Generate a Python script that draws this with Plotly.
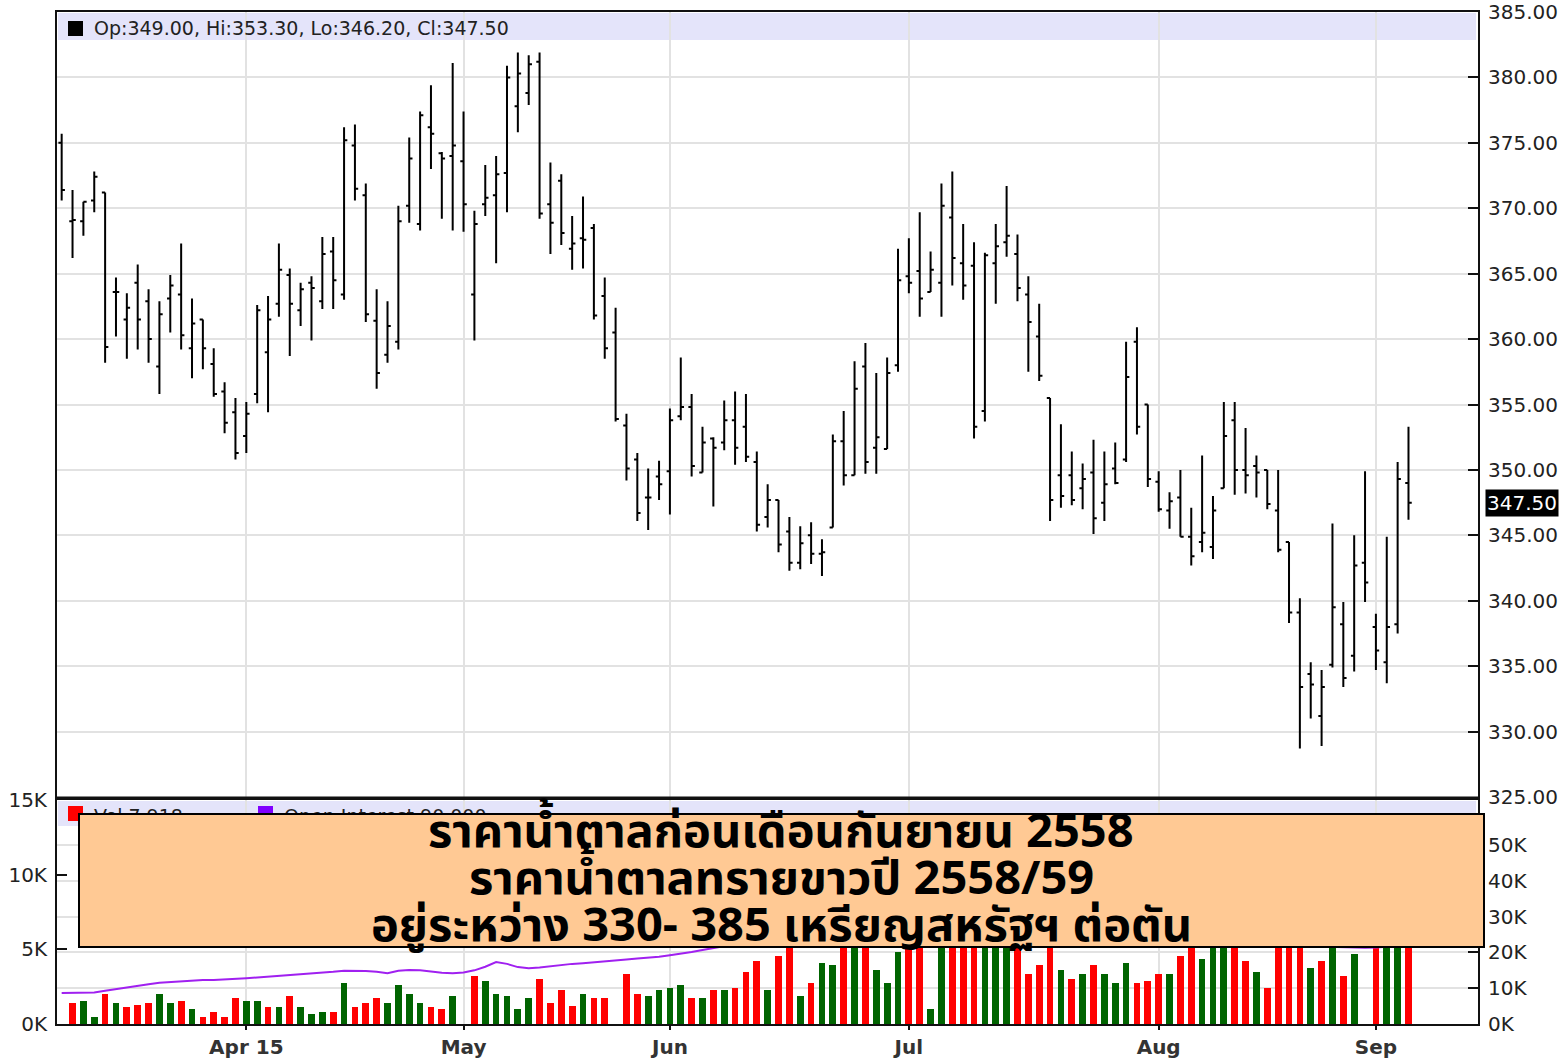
import pandas as pd
import plotly.graph_objects as go

# ---------------- data ----------------
opens = [375.0, 369.0, 369.0, 370.6, 371.2, 363.6, 361.5, 364.3, 362.9, 357.9,
         363.1, 363.4, 359.3, 361.5, 358.1, 356.0, 354.4, 352.6, 355.8, 359.0,
         362.7, 364.9, 362.2, 364.3, 362.9, 366.7, 363.4, 374.8, 371.0, 361.4,
         358.8, 359.8, 370.2, 368.8, 376.2, 374.2, 374.0, 373.6, 363.4, 370.3,
         371.0, 372.7, 377.8, 378.8, 381.2, 370.3, 372.1, 366.9, 367.7, 368.5,
         363.3, 360.5, 353.4, 350.8, 347.9, 349.5, 349.9, 354.1, 354.8, 349.8,
         352.4, 352.1, 353.8, 353.3, 350.6, 346.4, 347.7, 345.3, 342.9, 345.0,
         343.6, 345.6, 352.2, 349.6, 357.9, 351.7, 351.6, 358.0, 364.8, 365.2,
         363.6, 364.3, 369.3, 365.8, 365.6, 354.5, 365.8, 367.4, 366.5, 363.4,
         360.2, 355.5, 349.6, 349.6, 348.6, 349.8, 347.5, 350.1, 350.8, 359.8,
         355.0, 349.1, 346.9, 347.9, 344.9, 344.5, 344.1, 348.6, 353.8, 350.0,
         350.3, 350.0, 346.9, 344.5, 339.1, 334.4, 331.2, 335.1, 338.2, 335.8,
         342.9, 338.0, 335.3, 338.2, 349.0]
highs = [375.7, 371.4, 370.5, 372.8, 371.2, 364.7, 363.5, 365.7, 363.8, 362.9,
         364.9, 367.3, 363.1, 361.5, 359.3, 356.7, 355.5, 355.2, 362.6, 363.3,
         367.3, 365.4, 364.3, 364.8, 367.8, 367.8, 376.2, 376.4, 371.9, 363.8,
         362.9, 370.2, 375.4, 377.4, 379.4, 374.3, 381.1, 377.4, 369.8, 373.3,
         374.0, 380.9, 381.9, 381.7, 381.9, 373.5, 372.6, 369.4, 370.9, 368.8,
         364.7, 362.4, 354.3, 351.3, 350.1, 350.7, 354.7, 358.6, 355.8, 353.3,
         352.5, 355.3, 356.0, 355.8, 351.4, 348.9, 347.7, 346.4, 345.7, 346.0,
         344.7, 352.7, 354.5, 358.3, 359.7, 357.4, 358.6, 366.9, 367.7, 369.7,
         366.7, 371.9, 372.8, 368.8, 367.4, 366.6, 368.8, 371.7, 368.0, 364.8,
         362.7, 355.5, 353.5, 351.4, 350.5, 352.3, 351.4, 352.1, 359.8, 360.9,
         355.0, 349.9, 348.3, 350.0, 347.1, 351.1, 348.0, 355.2, 355.2, 353.2,
         351.1, 350.0, 350.0, 344.5, 340.2, 335.3, 334.7, 345.9, 339.9, 345.0,
         349.9, 339.0, 344.9, 350.6, 353.3]
lows = [370.6, 366.2, 367.9, 369.7, 358.2, 360.2, 358.5, 359.2, 358.2, 355.8,
        360.5, 359.2, 357.0, 357.7, 355.6, 352.8, 350.8, 351.3, 355.1, 354.4,
        361.7, 358.7, 361.0, 359.9, 362.3, 362.3, 363.0, 370.6, 361.3, 356.2,
        358.2, 359.2, 368.9, 368.3, 373.0, 369.2, 368.3, 368.2, 359.9, 369.4,
        365.8, 369.7, 375.8, 377.9, 369.2, 366.5, 367.2, 365.3, 365.4, 361.5,
        358.5, 353.7, 349.2, 346.1, 345.4, 347.7, 346.6, 353.8, 349.5, 349.8,
        347.2, 351.5, 350.4, 350.6, 345.3, 345.6, 343.7, 342.3, 342.4, 342.8,
        341.9, 345.6, 348.8, 349.6, 349.7, 349.7, 351.6, 357.5, 363.5, 361.7,
        363.6, 361.7, 364.1, 363.0, 352.4, 353.7, 362.7, 366.3, 362.9, 357.5,
        356.8, 346.1, 347.1, 347.3, 347.0, 345.1, 346.1, 348.9, 350.6, 352.7,
        348.7, 346.8, 345.5, 344.9, 342.7, 343.7, 343.2, 348.6, 348.1, 348.2,
        347.9, 347.0, 343.7, 338.3, 328.7, 331.0, 328.9, 334.9, 333.4, 334.6,
        339.9, 334.7, 333.7, 337.5, 346.2]
closes = [371.4, 369.1, 370.5, 372.4, 359.4, 363.6, 362.4, 361.5, 360.0, 361.9,
          364.1, 360.3, 361.2, 359.3, 355.8, 353.6, 351.3, 354.3, 362.2, 361.5,
          365.3, 362.7, 363.8, 363.9, 366.5, 364.5, 375.2, 371.5, 361.9, 357.4,
          361.0, 369.0, 373.8, 377.1, 375.7, 373.8, 374.8, 370.3, 368.8, 370.8,
          372.6, 380.0, 380.3, 381.0, 369.6, 368.9, 368.1, 367.3, 367.6, 361.8,
          359.3, 353.9, 350.1, 346.7, 347.9, 348.9, 353.8, 354.8, 350.3, 352.1,
          351.7, 353.8, 351.7, 351.0, 345.8, 347.7, 344.3, 342.9, 344.4, 343.6,
          343.7, 352.2, 349.6, 356.2, 350.6, 352.5, 357.4, 364.5, 364.3, 363.1,
          365.3, 370.2, 366.2, 364.1, 353.3, 366.4, 367.1, 367.9, 363.9, 361.3,
          357.2, 347.7, 348.0, 347.7, 349.3, 346.3, 348.9, 349.0, 357.1, 353.3,
          349.3, 347.0, 347.6, 344.9, 343.4, 345.2, 346.9, 352.6, 350.0, 349.6,
          349.8, 347.4, 343.9, 339.1, 333.4, 333.6, 333.4, 339.5, 334.1, 342.7,
          341.4, 336.2, 338.0, 349.3, 347.5]
volume = [0, 1420, 1560, 490, 2000, 1420, 1110, 1240, 1420, 2000,
          1420, 1560, 980, 490, 820, 490, 1710, 1560, 1560, 1110,
          1110, 1850, 1110, 670, 820, 820, 2750, 1110, 1420, 1710,
          1420, 2600, 2000, 1420, 1110, 980, 1850, 0, 3200, 2910,
          2000, 1870, 980, 1710, 3040, 1420, 2310, 1200, 2000, 1710,
          1710, 0, 3330, 2000, 1870, 2310, 2440, 2600, 1710, 1710,
          2310, 2310, 2440, 3490, 4220, 2310, 4530, 5400, 1870, 2760,
          4090, 3930, 5800, 6500, 6200, 3640, 2760, 4820, 5600, 6000,
          980, 7200, 6400, 5500, 8500, 7000, 5800, 5600, 5500, 3380,
          3980, 6800, 3640, 3040, 3380, 3980, 3380, 2760, 4090, 2760,
          2910, 3380, 3380, 4530, 5300, 4380, 5400, 6600, 5900, 4240,
          3490, 2440, 5800, 7500, 9000, 3780, 4240, 7200, 3200, 4710,
          0, 6500, 6000, 8000, 7918]
open_interest = [8660, 8700, 8700, 8800, 9300, 9800, 10300, 10800, 11100, 11500,
                 11700, 12000, 12200, 12300, 12300, 12400, 12500, 12800, 13000, 13200,
                 13500, 13700, 13900, 14100, 14300, 14600, 14900, 14900, 14800, 14600,
                 14200, 14900, 15100, 15000, 14600, 14300, 14200, 14400, 15000, 16000,
                 17300, 16800, 15900, 15600, 15800, 16200, 16500, 16800, 17000, 17200,
                 17500, 17800, 18000, 18300, 18500, 18800, 19200, 19600, 20100, 20700,
                 21300, 21800, 22300, 22800, 23200, 23600, 24000, 24300, 24600, 24900,
                 25200, 25500, 25700, 25900, 26100, 26300, 26400, 26500, 26600, 26700,
                 26800, 26900, 27000, 27000, 26900, 26800, 26700, 26500, 26300, 26100,
                 25900, 25700, 25500, 25300, 25100, 24900, 24700, 24500, 24300, 24100,
                 23900, 23700, 23500, 23300, 23100, 22900, 22700, 22500, 22300, 22200,
                 22100, 22000, 21900, 21800, 21700, 21600, 21600, 21500, 21500, 21400,
                 21300, 21400, 21600, 21800, 22000]
holidays = ["2015-04-03", "2015-04-06", "2015-05-04", "2015-05-25", "2015-08-31"]
month_tick_labels = ["Apr 15", "May", "Jun", "Jul", "Aug", "Sep"]
price_ticks = [325, 330, 335, 340, 345, 350, 355, 360, 365, 370, 375, 380, 385]
vol_ticks = [0, 5000, 10000, 15000]
vol_tick_text = ["0K", "5K", "10K", "15K"]
oi_ticks = [0, 10000, 20000, 30000, 40000, 50000]
oi_tick_text = ["0K", "10K", "20K", "30K", "40K", "50K"]
box_lines = ["ราคาน้ำตาลก่อนเดือนกันยายน 2558",
             "ราคาน้ำตาลทรายขาวปี 2558/59",
             "อยู่ระหว่าง 330- 385 เหรียญสหรัฐฯ ต่อตัน"]

# ---------------- derived ----------------
days = [d for d in pd.bdate_range("2015-03-09", "2015-09-04")
        if d.strftime("%Y-%m-%d") not in holidays]
dates = [d.strftime("%Y-%m-%d") for d in days]
n = len(closes)
xs = list(range(n))
month_idx = [i for i in range(1, n) if days[i].month != days[i - 1].month]
vol_colors = ["#FF0000"] + ["#006400" if closes[i] >= closes[i - 1] else "#FF0000"
                            for i in range(1, n)]

W, H = 1565, 1061
L, R, T, B = 57, 87, 12, 37
PW, PH = W - L - R, H - T - B


def px(x):
    return (x - L) / PW


def py(y):
    return (H - B - y) / PH


SANS = "DejaVu Sans, Verdana, sans-serif"
AX_FONT = dict(family=SANS, size=20, color="#222222")
GRID = "#E2E2E2"

fig = go.Figure()
fig.add_trace(go.Ohlc(
    x=xs, open=opens, high=highs, low=lows, close=closes,
    customdata=dates,
    increasing=dict(line=dict(color="black", width=2)),
    decreasing=dict(line=dict(color="black", width=2)),
    tickwidth=0.3, xaxis="x", yaxis="y", showlegend=False,
))
fig.add_trace(go.Bar(
    x=xs, y=volume, marker=dict(color=vol_colors, line=dict(width=0)),
    width=0.62, xaxis="x2", yaxis="y2", showlegend=False,
))
fig.add_trace(go.Scatter(
    x=xs, y=open_interest, mode="lines", line=dict(color="#A020F0", width=2),
    xaxis="x2", yaxis="y3", showlegend=False,
))

xr = [-0.43, 130.4]
fig.update_layout(
    width=W, height=H, margin=dict(l=L, r=R, t=T, b=B, autoexpand=False),
    paper_bgcolor="white", plot_bgcolor="white",
    bargap=0,
    xaxis=dict(domain=[0, 1], anchor="y", range=xr, tickvals=month_idx,
               showticklabels=False, showgrid=True, gridcolor=GRID, gridwidth=2,
               showline=True, mirror=True, linecolor="#111111", linewidth=2,
               ticks="", zeroline=False, rangeslider=dict(visible=False),
               automargin=False),
    yaxis=dict(domain=[py(797), 1], anchor="x", side="right", range=[325, 385],
               tickvals=price_ticks, tickformat=".2f", tickfont=AX_FONT,
               ticks="inside", ticklen=10, tickwidth=2, tickcolor="#111111",
               ticklabelstandoff=4,
               showgrid=True, gridcolor=GRID, gridwidth=2,
               showline=True, mirror=True, linecolor="#111111", linewidth=2,
               zeroline=False, automargin=False),
    xaxis2=dict(domain=[0, 1], anchor="y2", range=xr, matches="x",
                tickvals=month_idx, ticktext=month_tick_labels,
                tickfont=dict(family=SANS, size=20, color="#333333", weight="bold"),
                ticks="outside", ticklen=4, tickwidth=2, tickcolor="#111111",
                showgrid=True, gridcolor=GRID, gridwidth=2,
                showline=True, mirror=True, linecolor="#111111", linewidth=2,
                zeroline=False, automargin=False),
    yaxis2=dict(domain=[0, py(800)], anchor="x2", side="left", range=[0, 15000],
                tickvals=vol_ticks, ticktext=vol_tick_text, tickfont=AX_FONT,
                ticks="inside", ticklen=10, tickwidth=2, tickcolor="#111111",
                ticklabelstandoff=4,
                showgrid=False, showline=True, linecolor="#111111", linewidth=2,
                zeroline=False, automargin=False),
    yaxis3=dict(overlaying="y2", anchor="x2", side="right", range=[0, 62600],
                tickvals=oi_ticks, ticktext=oi_tick_text, tickfont=AX_FONT,
                ticks="inside", ticklen=10, tickwidth=2, tickcolor="#111111",
                ticklabelstandoff=4,
                showgrid=True, gridcolor=GRID, gridwidth=2,
                showline=True, linecolor="#111111", linewidth=2, zeroline=False,
                automargin=False),
)

shapes = [
    # legend bands
    dict(type="rect", xref="paper", yref="paper", x0=px(58), x1=px(1476),
         y0=py(13), y1=py(40), fillcolor="#E4E4FA", line=dict(width=0), layer="below"),
    dict(type="rect", xref="paper", yref="paper", x0=px(58), x1=px(1476),
         y0=py(801), y1=py(826), fillcolor="#E4E4FA", line=dict(width=0), layer="below"),
    # thick separator between panels
    dict(type="line", xref="paper", yref="paper", x0=0, x1=1, y0=py(798), y1=py(798),
         line=dict(color="#111111", width=3)),
    # legend swatches
    dict(type="rect", xref="paper", yref="paper", x0=px(68), x1=px(83),
         y0=py(21), y1=py(36), fillcolor="black", line=dict(width=0)),
    dict(type="rect", xref="paper", yref="paper", x0=px(68), x1=px(83),
         y0=py(806), y1=py(821), fillcolor="#FF0000", line=dict(width=0)),
    dict(type="rect", xref="paper", yref="paper", x0=px(258), x1=px(273),
         y0=py(806), y1=py(821), fillcolor="#8000FF", line=dict(width=0)),
]
fig.update_layout(shapes=shapes)

LEG_FONT = dict(family=SANS, size=19, color="#222222")
THAI_FONT = dict(family="Tahoma, 'Noto Sans Thai', Loma, Garuda, 'DejaVu Sans', sans-serif",
                 size=47, color="black", weight="bold")
annotations = [
    dict(xref="paper", yref="paper", x=px(92), y=py(28), xanchor="left", yanchor="middle",
         text=f"Op:{opens[-1]:.2f}, Hi:{highs[-1]:.2f}, Lo:{lows[-1]:.2f}, Cl:{closes[-1]:.2f}",
         showarrow=False, font=LEG_FONT),
    dict(xref="paper", yref="paper", x=px(92), y=py(816), xanchor="left", yanchor="middle",
         text=f"Vol {volume[-1]:,}", showarrow=False, font=LEG_FONT),
    dict(xref="paper", yref="paper", x=px(282), y=py(816), xanchor="left", yanchor="middle",
         text="Open Interest 90,000", showarrow=False, font=LEG_FONT),
    # last close marker
    dict(xref="paper", yref="y", x=px(1485), y=closes[-1], xanchor="left", yanchor="middle",
         text=f"{closes[-1]:.2f}", showarrow=False, bgcolor="black", borderpad=1,
         font=dict(family=SANS, size=20, color="white")),
    # orange text box
    dict(xref="paper", yref="paper", x=px(78), y=py(813), xanchor="left", yanchor="top",
         text=" ", showarrow=False, width=1403, height=131, bgcolor="#FFC994",
         bordercolor="black", borderwidth=2, borderpad=0),
]
for k, (line, yc) in enumerate(zip(box_lines, [832, 879, 926])):
    annotations.append(dict(xref="paper", yref="paper", x=px(781), y=py(yc),
                            xanchor="center", yanchor="middle", text=line,
                            showarrow=False, font=THAI_FONT))
fig.update_layout(annotations=annotations)

fig.write_html("out.html", config={"displayModeBar": False},
               post_script="document.body.style.margin='0px';"
                           "document.body.style.padding='0px';")
